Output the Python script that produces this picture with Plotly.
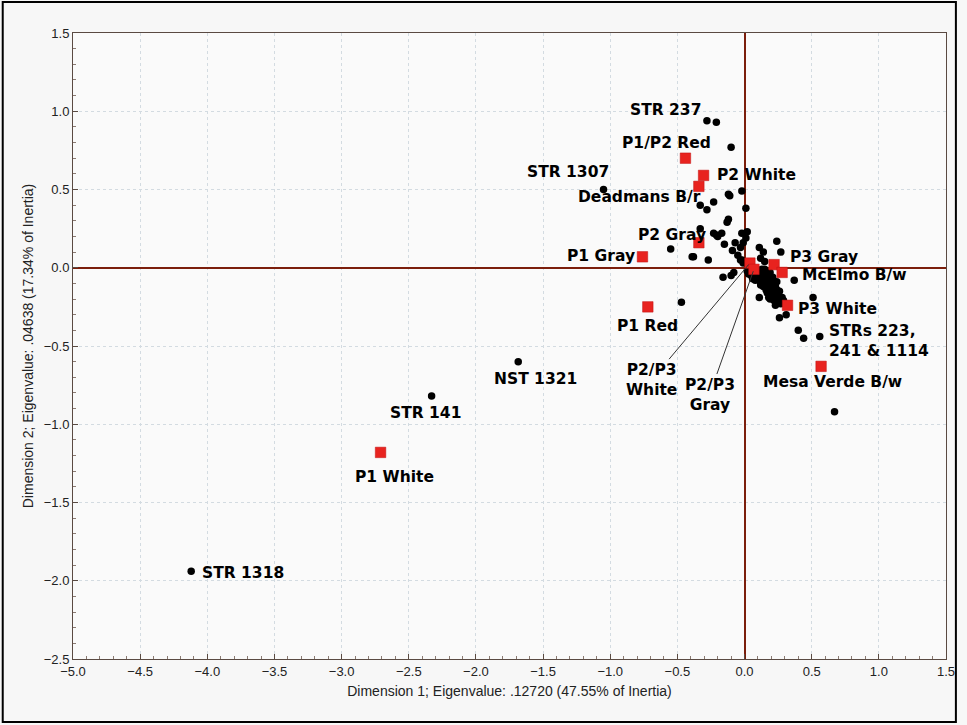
import plotly.graph_objects as go

# ---- data ----
ware_names = ["P1 White", "P1 Red", "P1 Gray", "P1/P2 Red", "P2 White", "Deadmans B/r",
              "P2 Gray", "P2/P3 White", "P2/P3 Gray", "P3 Gray", "McElmo B/w", "P3 White",
              "Mesa Verde B/w"]
ware_x = [-2.71, -0.72, -0.76, -0.44, -0.305, -0.34, -0.34, 0.04, 0.07, 0.22, 0.28, 0.32, 0.57]
ware_y = [-1.18, -0.25, 0.07, 0.70, 0.59, 0.52, 0.16, 0.03, -0.01, 0.02, -0.03, -0.24, -0.63]

sample_x = [-4.12, -2.33, -1.685, -1.05, -0.28, -0.21, -0.10, -0.12, -0.02, -0.11, -0.33, -0.28,
            -0.23, 0.01, -0.12, -0.13, -0.33, -0.23, -0.20, -0.17, -0.21, -0.02, 0.02, 0.01,
            -0.15, -0.55, -0.38, -0.27, -0.09, -0.05, -0.02, -0.03, -0.07, -0.01, 0.24, 0.11,
            0.14, 0.27, -0.16, -0.08, -0.47, 0.37, 0.51, 0.26, 0.31, 0.11, 0.40, 0.44, 0.56,
            0.67, 0.12, 0.15, 0.11, -0.03, -0.01, -0.39, -0.10,
            0.07, 0.09, 0.11, 0.12, 0.14, 0.10, 0.13, 0.15, 0.16, 0.17, 0.18, 0.19, 0.20,
            0.17, 0.21, 0.19, 0.22, 0.23, 0.20, 0.24, 0.22, 0.25, 0.26, 0.27, 0.23, 0.08,
            0.14, 0.16, 0.05, 0.12, 0.18, 0.28, 0.21, 0.24, 0.15, 0.19, 0.03, 0.06, 0.09,
            0.13, 0.18, 0.22, 0.25, 0.29, 0.02, 0.17,
            0.10, 0.12, 0.14, 0.16, 0.18, 0.20, 0.21, 0.23, 0.25, 0.17, 0.15, 0.19, 0.13, 0.24]
sample_y = [-1.94, -0.82, -0.60, 0.50, 0.94, 0.93, 0.77, 0.47, 0.49, 0.46, 0.40, 0.37,
            0.42, 0.38, 0.31, 0.29, 0.25, 0.22, 0.20, 0.22, 0.21, 0.22, 0.23, 0.19,
            0.15, 0.12, 0.07, 0.05, 0.11, 0.08, 0.05, 0.13, 0.16, 0.16, 0.17, 0.13,
            0.10, 0.10, -0.06, -0.03, -0.22, -0.08, -0.19, -0.32, -0.30, -0.19, -0.40, -0.45, -0.44,
            -0.92, 0.06, 0.04, -0.08, 0.05, 0.03, 0.07, -0.05,
            -0.02, -0.04, -0.02, -0.05, -0.03, -0.06, -0.07, -0.06, -0.09, -0.05, -0.08, -0.11, -0.09,
            -0.12, -0.13, -0.15, -0.16, -0.12, -0.18, -0.18, -0.21, -0.21, -0.15, -0.23, -0.24, -0.08,
            -0.10, -0.14, -0.05, -0.11, -0.19, -0.19, -0.06, -0.09, -0.01, -0.03, -0.04, -0.07, -0.01,
            -0.01, -0.14, -0.09, -0.17, -0.21, -0.02, -0.16,
            -0.03, -0.09, -0.12, -0.11, -0.13, -0.14, -0.17, -0.20, -0.17, -0.16, -0.08, -0.20, -0.02, -0.14]

# centred labels (text centre, data units)
label_text = ["STR 237", "P1/P2 Red", "STR 1307", "P2 White", "Deadmans B/r", "P2 Gray",
              "P1 Gray", "P1 Red", "NST 1321", "STR 141", "P1 White", "STR 1318"]
label_x = [-0.585, -0.58, -1.315, 0.09, -0.785, -0.54, -1.07, -0.725,
           -1.56, -2.375, -2.605, -3.735]
label_y = [1.01, 0.80, 0.61, 0.59, 0.455, 0.21, 0.077, -0.37,
           -0.71, -0.925, -1.34, -1.95]

# left-anchored labels (left edge, vertical centre)
left_text = ["P3 Gray", "McElmo B/w", "P3 White", "STRs 223,<br>241 & 1114", "Mesa Verde B/w"]
left_x = [0.329, 0.417, 0.388, 0.624, 0.13]
left_y = [0.07, -0.045, -0.262, -0.47, -0.728]

leader_text = ["P2/P3<br>White", "P2/P3<br>Gray"]
leader_pos = [(-0.69, -0.715), (-0.26, -0.81)]
leader_target = ["P2/P3 White", "P2/P3 Gray"]

x_title = "Dimension 1; Eigenvalue: .12720 (47.55% of Inertia)"
y_title = "Dimension 2; Eigenvalue: .04638 (17.34% of Inertia)"

# ---- figure ----
W, H = 967, 725
ML, MR, MT, MB = 73, 12, 33, 66

fig = go.Figure()
fig.add_trace(go.Scatter(x=sample_x, y=sample_y, mode="markers",
                         marker=dict(color="black", size=7.5, symbol="circle"),
                         showlegend=False, hoverinfo="skip"))
fig.add_trace(go.Scatter(x=ware_x, y=ware_y, mode="markers",
                         marker=dict(color="#e8231f", size=10.5, symbol="square",
                                     line=dict(color="#c01010", width=0.5)),
                         showlegend=False, text=ware_names))

lab_font = dict(family="DejaVu Sans", size=15.5, color="black")
annotations = []
for t, lx, ly in zip(label_text, label_x, label_y):
    annotations.append(dict(x=lx, y=ly, xref="x", yref="y", text="<b>%s</b>" % t,
                            showarrow=False, font=lab_font))
for t, lx, ly in zip(left_text, left_x, left_y):
    annotations.append(dict(x=lx, y=ly, xref="x", yref="y", text="<b>%s</b>" % t,
                            showarrow=False, xanchor="left", align="left", font=lab_font,
                            borderpad=0))
for t, (lx, ly), tgt in zip(leader_text, leader_pos, leader_target):
    i = ware_names.index(tgt)
    annotations.append(dict(x=ware_x[i], y=ware_y[i], xref="x", yref="y",
                            ax=lx, ay=ly, axref="x", ayref="y",
                            text="<b>%s</b>" % t, showarrow=True, arrowhead=0,
                            arrowwidth=1, arrowcolor="#333333", standoff=2,
                            font=lab_font))

pw = W - ML - MR
ph = H - MT - MB
shapes = [dict(type="rect", xref="paper", yref="paper",
               x0=(2 - ML) / pw, x1=(965 - ML) / pw,
               y0=-(722 - MT - ph) / ph, y1=1 + (MT - 2) / ph,
               line=dict(color="black", width=2), fillcolor="rgba(0,0,0,0)", layer="below")]

axis_common = dict(showgrid=True, gridcolor="#d3dbe1", griddash="dot", gridwidth=1,
                   zeroline=True, zerolinecolor="#7b1e0c", zerolinewidth=1.5,
                   showline=True, linecolor="#5a4a42", linewidth=1, mirror=True,
                   ticks="inside", ticklen=5, tickcolor="#5a4a42",
                   minor=dict(ticks="inside", ticklen=3, tickcolor="#8a7a72", dtick=0.1,
                              showgrid=False))

title_font = dict(family="Liberation Sans, Arial", size=14, color="#222")
fig.update_layout(
    width=W, height=H, autosize=False,
    margin=dict(l=ML, r=MR, t=MT, b=MB),
    paper_bgcolor="#f7f7f7", plot_bgcolor="#fafafa",
    annotations=annotations, shapes=shapes,
    xaxis=dict(range=[-5.0, 1.5], dtick=0.5, tick0=-5.0, tickformat=".1f",
               title=dict(text=x_title, font=title_font, standoff=8),
               tickfont=dict(family="Liberation Sans, Arial", size=13, color="#222"),
               **axis_common),
    yaxis=dict(range=[-2.5, 1.5], dtick=0.5, tick0=-2.5, tickformat=".1f",
               title=dict(text=y_title, font=title_font, standoff=6),
               tickfont=dict(family="Liberation Sans, Arial", size=13, color="#222"),
               **axis_common),
)

fig.write_html("out.html")
